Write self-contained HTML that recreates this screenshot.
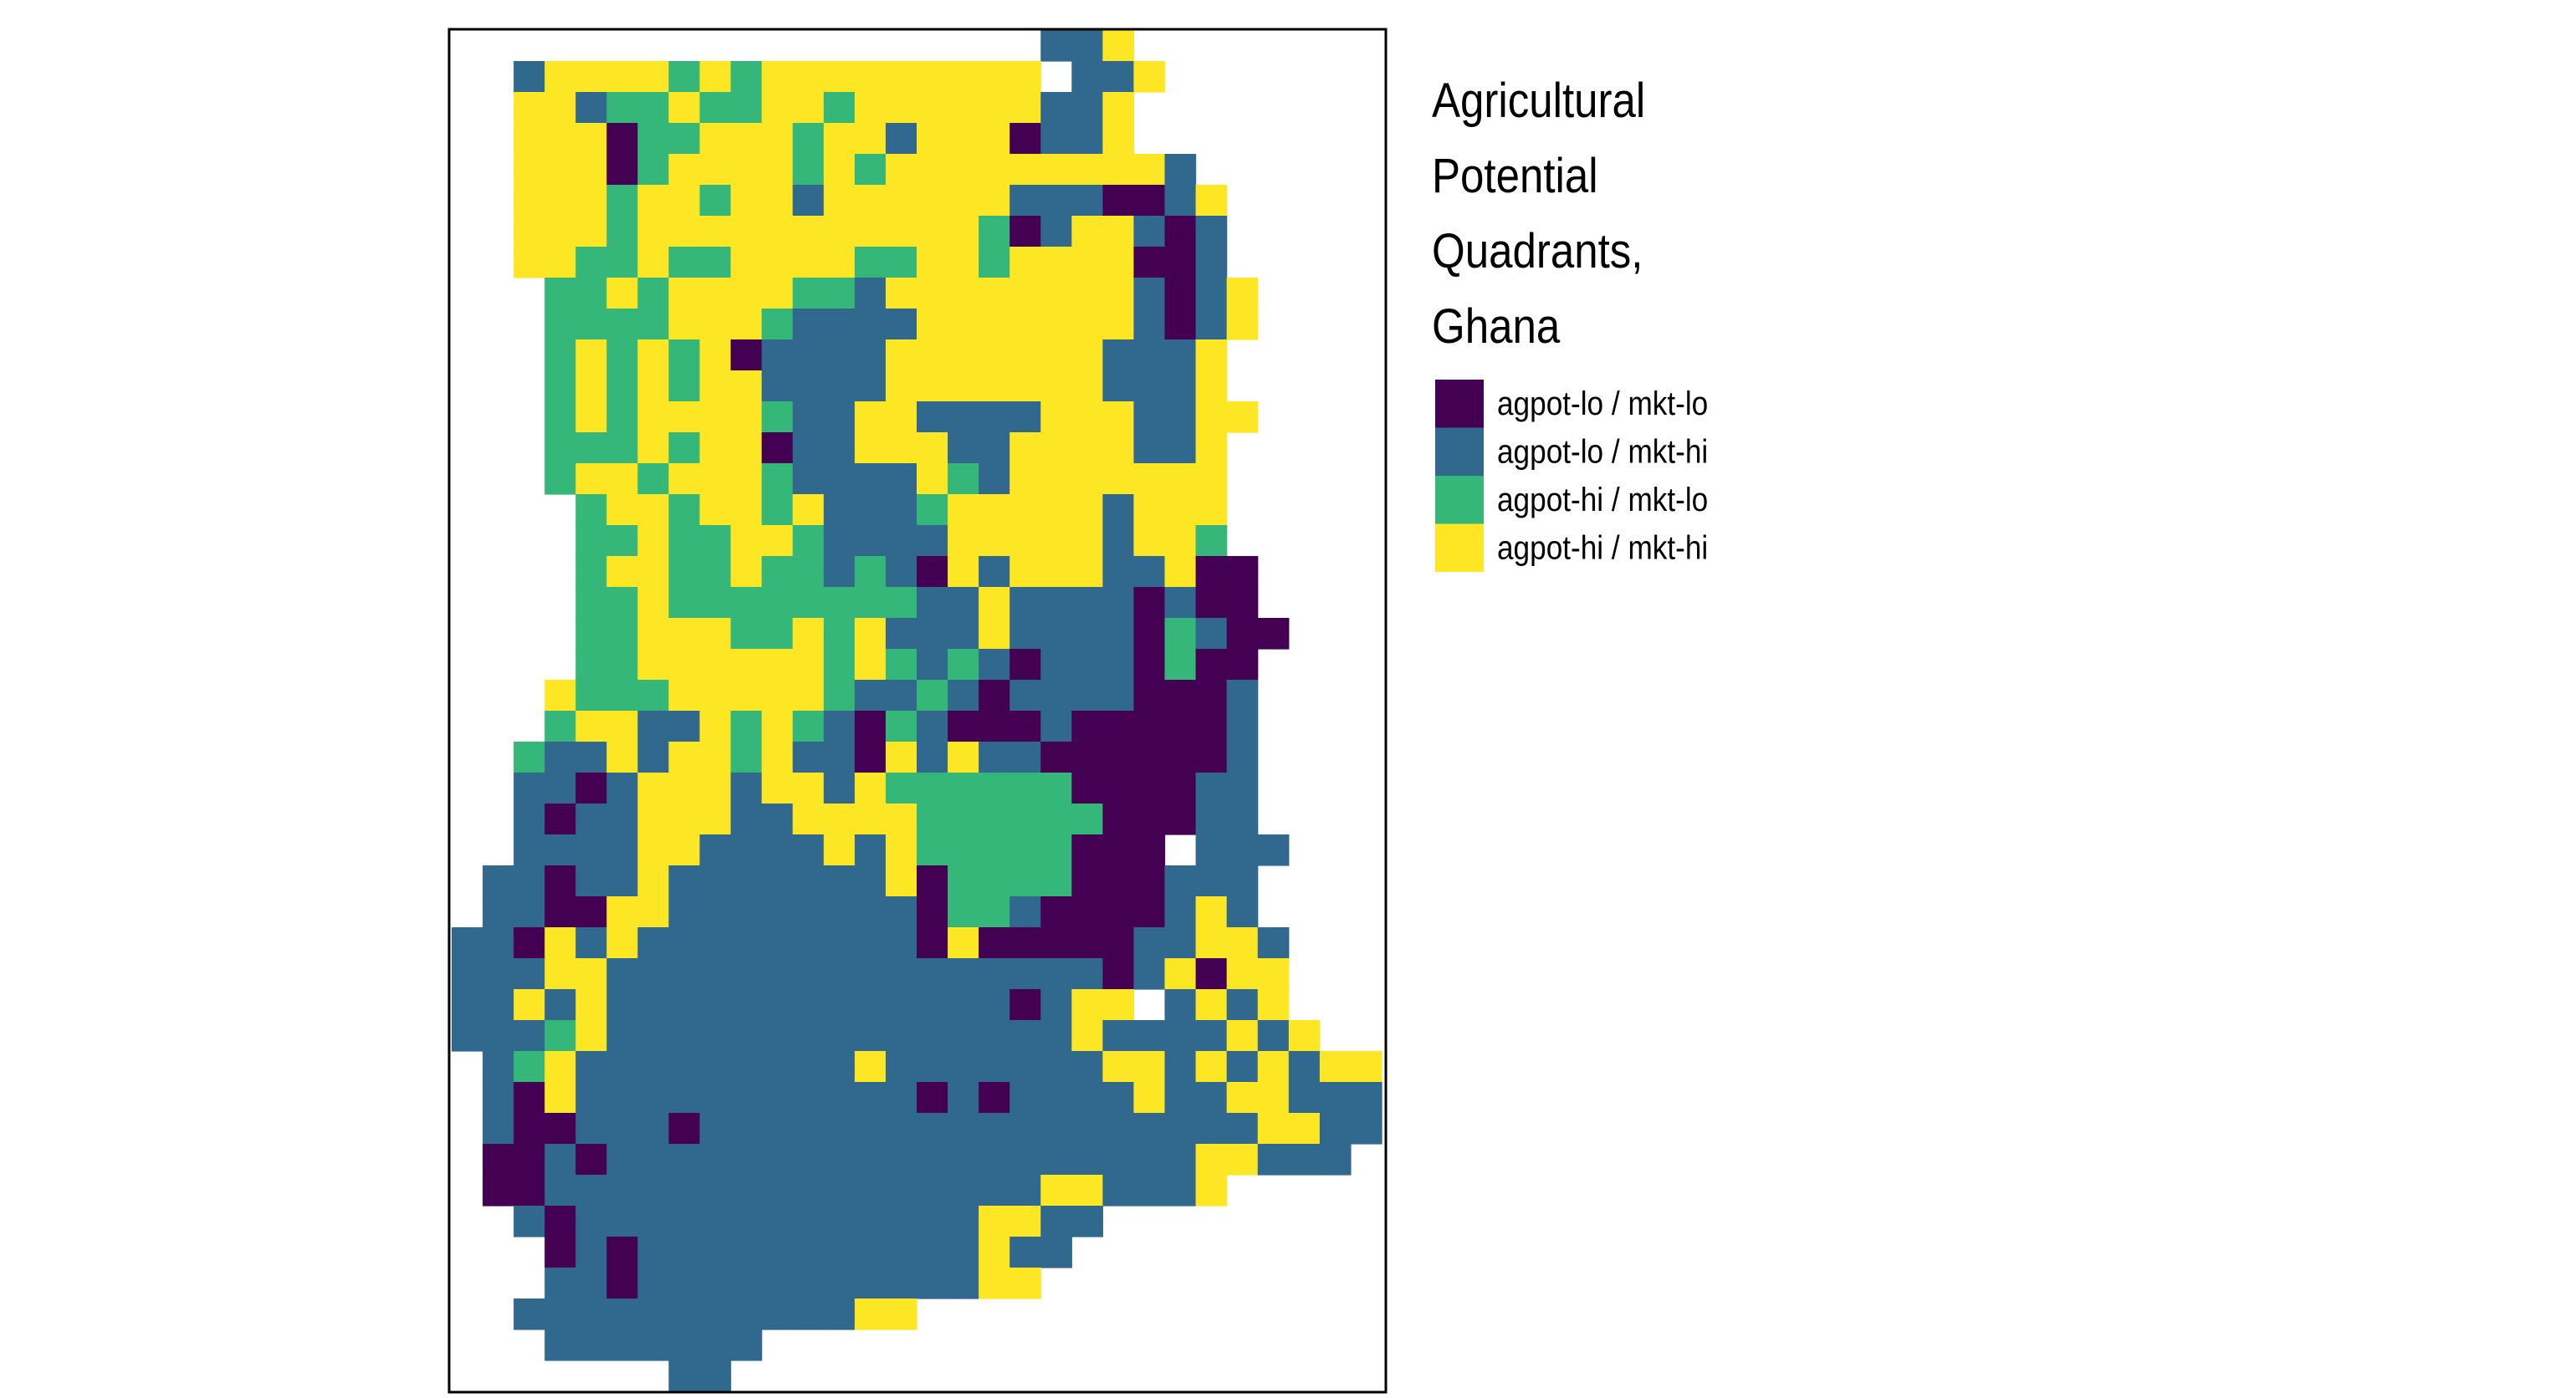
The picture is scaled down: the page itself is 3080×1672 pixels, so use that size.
<!DOCTYPE html>
<html><head><meta charset="utf-8"><style>
html,body{margin:0;padding:0;background:#fff}
svg{display:block}
text{font-family:"Liberation Sans",sans-serif}
</style></head><body>
<svg id="chart" width="3080" height="1672" viewBox="0 0 3080 1672" xmlns="http://www.w3.org/2000/svg">
<rect x="0" y="0" width="3080" height="1672" fill="#fff"/>
<g id="cells"></g>
<rect x="537" y="35" width="1120" height="1630" fill="none" stroke="#000" stroke-width="3"/>
<g>
<text x="1712" y="140" font-size="58" transform="translate(1712 0) scale(0.88 1) translate(-1712 0)">Agricultural</text>
<text x="1712" y="230" font-size="58" transform="translate(1712 0) scale(0.88 1) translate(-1712 0)">Potential</text>
<text x="1712" y="320" font-size="58" transform="translate(1712 0) scale(0.88 1) translate(-1712 0)">Quadrants,</text>
<text x="1712" y="410" font-size="58" transform="translate(1712 0) scale(0.88 1) translate(-1712 0)">Ghana</text>
<g id="legend-keys"></g>
</g>
</svg>
<script>
// Category labels and colors
const categories = ["agpot-lo / mkt-lo","agpot-lo / mkt-hi","agpot-hi / mkt-lo","agpot-hi / mkt-hi"];
const colors = ["#440154","#31688e","#35b779","#fde725"];
// Grid rows: digit = category index, '.' = no data
const gridRows = [
"...................113",
"..13333232333333333.113",
"..33122322332333333113",
"..33302233323313330113",
"..3330233332323333333331",
"..33323323313333331110013",
"..33323333333333320133101",
"..33223223333223323333001",
"...22323333221333333331013",
"...22223332111133333331013",
"...23232301111333333311 13".replace(" ",""),
"...2323233111133333331113",
"...23233332113311113331133",
"...2223233011333113333113",
"...2332333211113213333333",
"....233233231112333331333",
"....223223321111333331332",
"....23322322121031333113 00".replace(" ",""),
"....22322222222113111101 00".replace(" ",""),
"....22333223231113111102100",
"....22333333232121011102 00".replace(" ",""),
"...32223333321121011110001",
"...23311323210210001000001",
"..211313323110313110000001",
"..110133313313222222000011",
"..101133311333322222200011",
"..111133111131322222000.111",
".11011311111113022220001 11".replace(" ",""),
".110033111111110221000013 1".replace(" ",""),
"110313111111111030000011331",
"111331111111111111111013033",
"1131311111111111110133.1313",
"1112311111111111111131111313",
".12311111111131111111331313133".slice(0,30),
".103111111111110101111311331111".slice(0,30),
".10011101111111111111111113311",
".0010111111111111111111133111",
".00111111111111111133111 3".replace(" ",""),
"..1011111111111113311",
"...01011111111111311",
"...1101111111111133",
"..1111111111133",
"...1111111",
".......11"
];
const nCols = 30, nRows = gridRows.length;
const x0 = 540, x1 = 1652, y0 = 36, y1 = 1664;
const cw = (x1 - x0) / nCols, ch = (y1 - y0) / nRows;
function xScale(c){ return x0 + c * cw; }
function yScale(r){ return y0 + r * ch; }
const NS = "http://www.w3.org/2000/svg";
const g = document.getElementById("cells");
gridRows.forEach((row, r) => {
  for (let c = 0; c < Math.min(row.length, nCols); c++) {
    const v = row[c];
    if (v === "." || v === " ") continue;
    const rect = document.createElementNS(NS, "rect");
    
    
    rect.setAttribute("x", xScale(c).toFixed(2));
    rect.setAttribute("y", yScale(r).toFixed(2));
    rect.setAttribute("width", (cw + 0.6).toFixed(2));
    rect.setAttribute("height", (ch + 0.6).toFixed(2));
    rect.setAttribute("fill", colors[+v]);
    g.appendChild(rect);
  }
});
const lg = document.getElementById("legend-keys");
categories.forEach((label, i) => {
  const y = 454 + i * 57.5;
  const k = document.createElementNS(NS, "rect");
  
  
  k.setAttribute("x", 1716); k.setAttribute("y", y);
  k.setAttribute("width", 58); k.setAttribute("height", 57.5);
  k.setAttribute("fill", colors[i]);
  lg.appendChild(k);
  const t = document.createElementNS(NS, "text");
  
  
  t.setAttribute("x", 1790); t.setAttribute("y", y + 42);
  t.setAttribute("font-size", "40");
  t.setAttribute("transform", "translate(1790 0) scale(0.88 1) translate(-1790 0)");
  t.textContent = label;
  lg.appendChild(t);
});
</script>
</body></html>
